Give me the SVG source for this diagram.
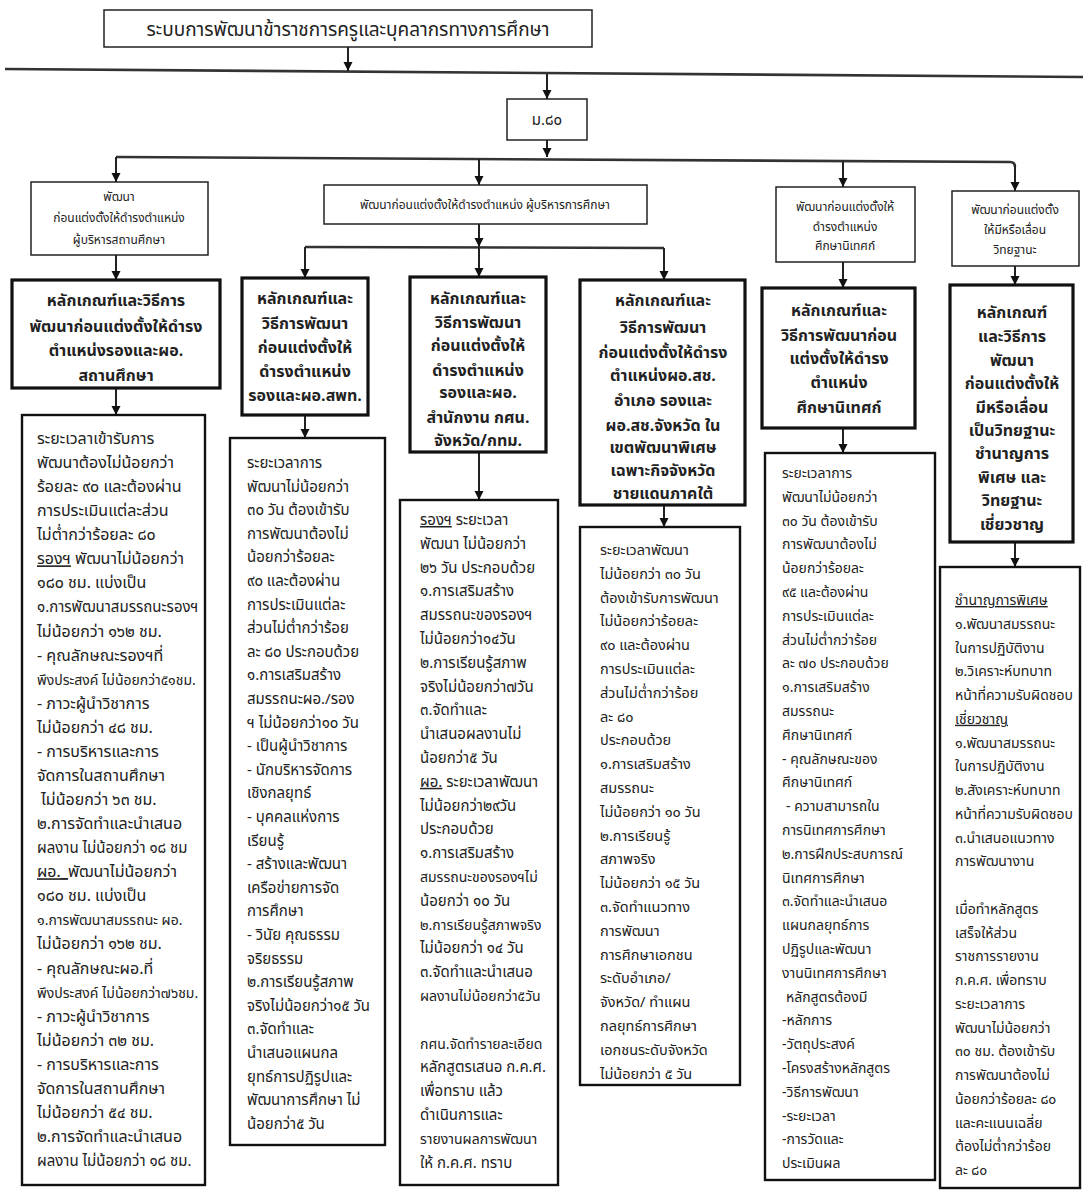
<svg xmlns="http://www.w3.org/2000/svg" width="1083" height="1191" viewBox="0 0 1083 1191">
<style>
.bg{fill:#ffffff}
.thin{fill:#fff;stroke:#222;stroke-width:1.5}
.bold{fill:#fff;stroke:#111;stroke-width:3.2}
.mid{fill:#fff;stroke:#111;stroke-width:2.4}
.ln{fill:none;stroke:#222;stroke-width:2}
.hl{fill:none;stroke:#333;stroke-width:2.6}
text{font-family:"Noto Sans Thai","Loma","Garuda","Noto Sans",sans-serif;fill:#222}
.ti{font-size:19px}
.sm{font-size:12px}
.hd{font-size:16px;font-weight:bold;text-anchor:middle}
.f16{font-size:16px}
.f15{font-size:15px}
.f145{font-size:14.5px}
.f14{font-size:14px}
.u{text-decoration:underline}
.c{text-anchor:middle}
</style>
<defs>
<marker id="ah" viewBox="0 0 10 10" refX="10" refY="5" markerWidth="9" markerHeight="11" markerUnits="userSpaceOnUse" orient="auto">
<path d="M0,0 L10,5 L0,10 z" fill="#111"/>
</marker>
</defs>
<rect class="bg" x="0" y="0" width="1083" height="1191"/>

<g id="connectors">
<line class="hl" x1="5" y1="69" x2="1083" y2="77"/>
<line class="ln" x1="348" y1="47" x2="348" y2="71" marker-end="url(#ah)"/>
<line class="ln" x1="547" y1="74" x2="547" y2="99" marker-end="url(#ah)"/>
<line class="ln" x1="547" y1="140" x2="547" y2="157" marker-end="url(#ah)"/>
<path class="hl" d="M116,157 L1010,162 Q1015,162 1015,167"/>
<line class="ln" x1="1015" y1="165" x2="1015" y2="191" marker-end="url(#ah)"/>
<line class="ln" x1="116" y1="157" x2="116" y2="182" marker-end="url(#ah)"/>
<line class="ln" x1="479" y1="159" x2="479" y2="185" marker-end="url(#ah)"/>
<line class="ln" x1="843" y1="161" x2="843" y2="187" marker-end="url(#ah)"/>
<line class="ln" x1="116" y1="255" x2="116" y2="280" marker-end="url(#ah)"/>
<line class="ln" x1="479" y1="224" x2="479" y2="247" marker-end="url(#ah)"/>
<line class="hl" x1="305" y1="247" x2="664" y2="248"/>
<line class="ln" x1="305" y1="247" x2="305" y2="278" marker-end="url(#ah)"/>
<line class="ln" x1="479" y1="247" x2="479" y2="277" marker-end="url(#ah)"/>
<line class="ln" x1="664" y1="248" x2="664" y2="280" marker-end="url(#ah)"/>
<line class="ln" x1="843" y1="262" x2="843" y2="288" marker-end="url(#ah)"/>
<line class="ln" x1="1015" y1="266" x2="1015" y2="285" marker-end="url(#ah)"/>
<line class="ln" x1="116" y1="388" x2="116" y2="415" marker-end="url(#ah)"/>
<line class="ln" x1="305" y1="415" x2="305" y2="438" marker-end="url(#ah)"/>
<line class="ln" x1="479" y1="452" x2="479" y2="500" marker-end="url(#ah)"/>
<line class="ln" x1="664" y1="505" x2="664" y2="527" marker-end="url(#ah)"/>
<line class="ln" x1="843" y1="428" x2="843" y2="453" marker-end="url(#ah)"/>
<line class="ln" x1="1015" y1="542" x2="1015" y2="567" marker-end="url(#ah)"/>
</g>

<g id="title">
<rect class="thin" x="104" y="10" width="488" height="37"/>
<text class="ti c" x="348" y="36">ระบบการพัฒนาข้าราชการครูและบุคลากรทางการศึกษา</text>
</g>

<g id="m80">
<rect class="thin" x="507" y="99" width="80" height="41"/>
<text class="c" style="font-size:15px" x="547" y="125">ม.๘๐</text>
</g>

<g id="b1">
<rect class="thin" x="31" y="182" width="177" height="73"/>
<text class="sm c" x="119" y="201">พัฒนา</text>
<text class="sm c" x="119" y="222">ก่อนแต่งตั้งให้ดำรงตำแหน่ง</text>
<text class="sm c" x="119" y="244">ผู้บริหารสถานศึกษา</text>
</g>

<g id="b2">
<rect class="thin" x="324" y="185" width="323" height="39"/>
<text class="sm c" x="485" y="209">พัฒนาก่อนแต่งตั้งให้ดำรงตำแหน่ง ผู้บริหารการศึกษา</text>
</g>

<g id="b5">
<rect class="thin" x="776" y="187" width="139" height="75"/>
<text class="sm c" x="845" y="211">พัฒนาก่อนแต่งตั้งให้</text>
<text class="sm c" x="845" y="231">ดำรงตำแหน่ง</text>
<text class="sm c" x="845" y="250">ศึกษานิเทศก์</text>
</g>

<g id="b6">
<rect class="thin" x="952" y="191" width="127" height="75"/>
<text class="sm c" x="1015" y="214">พัฒนาก่อนแต่งตั้ง</text>
<text class="sm c" x="1015" y="234">ให้มีหรือเลื่อน</text>
<text class="sm c" x="1015" y="254">วิทยฐานะ</text>
</g>

<g id="c1">
<rect class="bold" x="12" y="280" width="208" height="108"/>
<text class="hd" x="116" y="306">หลักเกณฑ์และวิธีการ</text>
<text class="hd" x="116" y="332">พัฒนาก่อนแต่งตั้งให้ดำรง</text>
<text class="hd" x="116" y="356">ตำแหน่งรองและผอ.</text>
<text class="hd" x="116" y="381">สถานศึกษา</text>
</g>

<g id="c2">
<rect class="bold" x="242" y="278" width="126" height="137"/>
<text class="hd" x="305" y="304">หลักเกณฑ์และ</text>
<text class="hd" x="305" y="329">วิธีการพัฒนา</text>
<text class="hd" x="305" y="353">ก่อนแต่งตั้งให้</text>
<text class="hd" x="305" y="377">ดำรงตำแหน่ง</text>
<text class="hd" x="305" y="401">รองและผอ.สพท.</text>
</g>

<g id="c3">
<rect class="bold" x="410" y="277" width="136" height="175"/>
<text class="hd" x="478" y="304">หลักเกณฑ์และ</text>
<text class="hd" x="478" y="328">วิธีการพัฒนา</text>
<text class="hd" x="478" y="351">ก่อนแต่งตั้งให้</text>
<text class="hd" x="478" y="376">ดำรงตำแหน่ง</text>
<text class="hd" x="478" y="398">รองและผอ.</text>
<text class="hd" x="478" y="423">สำนักงาน กศน.</text>
<text class="hd" x="478" y="446">จังหวัด/กทม.</text>
</g>

<g id="c4">
<rect class="bold" x="580" y="280" width="165" height="225"/>
<text class="hd" x="663" y="306">หลักเกณฑ์และ</text>
<text class="hd" x="663" y="333">วิธีการพัฒนา</text>
<text class="hd" x="663" y="358">ก่อนแต่งตั้งให้ดำรง</text>
<text class="hd" x="663" y="381">ตำแหน่งผอ.สช.</text>
<text class="hd" x="663" y="406">อำเภอ รองและ</text>
<text class="hd" x="663" y="431">ผอ.สช.จังหวัด ใน</text>
<text class="hd" x="663" y="453">เขตพัฒนาพิเศษ</text>
<text class="hd" x="663" y="476">เฉพาะกิจจังหวัด</text>
<text class="hd" x="663" y="499">ชายแดนภาคใต้</text>
</g>

<g id="c5">
<rect class="bold" x="762" y="288" width="153" height="140"/>
<text class="hd" x="839" y="316">หลักเกณฑ์และ</text>
<text class="hd" x="839" y="341">วิธีการพัฒนาก่อน</text>
<text class="hd" x="839" y="364">แต่งตั้งให้ดำรง</text>
<text class="hd" x="839" y="388">ตำแหน่ง</text>
<text class="hd" x="839" y="413">ศึกษานิเทศก์</text>
</g>

<g id="c6">
<rect class="bold" x="950" y="285" width="123" height="257"/>
<text class="hd" x="1012" y="318">หลักเกณฑ์</text>
<text class="hd" x="1012" y="342">และวิธีการ</text>
<text class="hd" x="1012" y="366">พัฒนา</text>
<text class="hd" x="1012" y="389">ก่อนแต่งตั้งให้</text>
<text class="hd" x="1012" y="413">มีหรือเลื่อน</text>
<text class="hd" x="1012" y="436">เป็นวิทยฐานะ</text>
<text class="hd" x="1012" y="459">ชำนาญการ</text>
<text class="hd" x="1012" y="483">พิเศษ และ</text>
<text class="hd" x="1012" y="506">วิทยฐานะ</text>
<text class="hd" x="1012" y="530">เชี่ยวชาญ</text>
</g>

<g id="d1">
<rect class="mid" x="22" y="415" width="183" height="770"/>
<text class="f16" y="444">
<tspan x="37">ระยะเวลาเข้ารับการ</tspan>
<tspan x="37" dy="24.07">พัฒนาต้องไม่น้อยกว่า</tspan>
<tspan x="37" dy="24.07">ร้อยละ ๙๐ และต้องผ่าน</tspan>
<tspan x="37" dy="24.07">การประเมินแต่ละส่วน</tspan>
<tspan x="37" dy="24.07">ไม่ต่ำกว่าร้อยละ ๘๐</tspan>
<tspan x="37" dy="24.07" class="u">รองฯ</tspan><tspan> พัฒนาไม่น้อยกว่า</tspan>
<tspan x="37" dy="24.07">๑๘๐ ชม. แบ่งเป็น</tspan>
<tspan x="37" dy="24.07" class="f15">๑.การพัฒนาสมรรถนะรองฯ</tspan>
<tspan x="37" dy="24.07">ไม่น้อยกว่า ๑๖๒ ชม.</tspan>
<tspan x="37" dy="24.07">- คุณลักษณะรองฯที่</tspan>
<tspan x="37" dy="24.07" class="f14">พึงประสงค์ ไม่น้อยกว่า๕๑ชม.</tspan>
<tspan x="37" dy="24.07">- ภาวะผู้นำวิชาการ</tspan>
<tspan x="37" dy="24.07">ไม่น้อยกว่า ๔๘ ชม.</tspan>
<tspan x="37" dy="24.07">- การบริหารและการ</tspan>
<tspan x="37" dy="24.07">จัดการในสถานศึกษา</tspan>
<tspan x="41" dy="24.07">ไม่น้อยกว่า ๖๓ ชม.</tspan>
<tspan x="37" dy="24.07">๒.การจัดทำและนำเสนอ</tspan>
<tspan x="37" dy="24.07" class="f15">ผลงาน ไม่น้อยกว่า ๑๘ ชม</tspan>
<tspan x="37" dy="24.07" class="u">ผอ._</tspan><tspan>พัฒนาไม่น้อยกว่า</tspan>
<tspan x="37" dy="24.07">๑๘๐ ชม. แบ่งเป็น</tspan>
<tspan x="37" dy="24.07" class="f14">๑.การพัฒนาสมรรถนะ ผอ.</tspan>
<tspan x="37" dy="24.07">ไม่น้อยกว่า ๑๖๒ ชม.</tspan>
<tspan x="37" dy="24.07">- คุณลักษณะผอ.ที่</tspan>
<tspan x="37" dy="24.07" class="f14">พึงประสงค์ ไม่น้อยกว่า๗๖ชม.</tspan>
<tspan x="37" dy="24.07">- ภาวะผู้นำวิชาการ</tspan>
<tspan x="37" dy="24.07">ไม่น้อยกว่า ๓๒ ชม.</tspan>
<tspan x="37" dy="24.07">- การบริหารและการ</tspan>
<tspan x="37" dy="24.07">จัดการในสถานศึกษา</tspan>
<tspan x="37" dy="24.07">ไม่น้อยกว่า ๕๔ ชม.</tspan>
<tspan x="37" dy="24.07">๒.การจัดทำและนำเสนอ</tspan>
<tspan x="37" dy="24.07" class="f15">ผลงาน ไม่น้อยกว่า ๑๘ ชม.</tspan>
</text>
</g>

<g id="d2">
<rect class="mid" x="230" y="438" width="155" height="707"/>
<text class="f15" y="468">
<tspan x="247">ระยะเวลาการ</tspan>
<tspan x="247" dy="23.6">พัฒนาไม่น้อยกว่า</tspan>
<tspan x="247" dy="23.6">๓๐ วัน ต้องเข้ารับ</tspan>
<tspan x="247" dy="23.6">การพัฒนาต้องไม่</tspan>
<tspan x="247" dy="23.6">น้อยกว่าร้อยละ</tspan>
<tspan x="247" dy="23.6">๙๐  และต้องผ่าน</tspan>
<tspan x="247" dy="23.6">การประเมินแต่ละ</tspan>
<tspan x="247" dy="23.6">ส่วนไม่ต่ำกว่าร้อย</tspan>
<tspan x="247" dy="23.6">ละ ๘๐ ประกอบด้วย</tspan>
<tspan x="247" dy="23.6">๑.การเสริมสร้าง</tspan>
<tspan x="247" dy="23.6">สมรรถนะผอ./รอง</tspan>
<tspan x="247" dy="23.6">ฯ ไม่น้อยกว่า๑๐ วัน</tspan>
<tspan x="247" dy="23.6">- เป็นผู้นำวิชาการ</tspan>
<tspan x="247" dy="23.6">- นักบริหารจัดการ</tspan>
<tspan x="247" dy="23.6">เชิงกลยุทธ์</tspan>
<tspan x="247" dy="23.6">- บุคคลแห่งการ</tspan>
<tspan x="247" dy="23.6">เรียนรู้</tspan>
<tspan x="247" dy="23.6">- สร้างและพัฒนา</tspan>
<tspan x="247" dy="23.6">เครือข่ายการจัด</tspan>
<tspan x="247" dy="23.6">การศึกษา</tspan>
<tspan x="247" dy="23.6">- วินัย คุณธรรม</tspan>
<tspan x="247" dy="23.6">จริยธรรม</tspan>
<tspan x="247" dy="23.6">๒.การเรียนรู้สภาพ</tspan>
<tspan x="247" dy="23.6">จริงไม่น้อยกว่า๑๕ วัน</tspan>
<tspan x="247" dy="23.6">๓.จัดทำและ</tspan>
<tspan x="247" dy="23.6">นำเสนอแผนกล</tspan>
<tspan x="247" dy="23.6">ยุทธ์การปฏิรูปและ</tspan>
<tspan x="247" dy="23.6">พัฒนาการศึกษา ไม่</tspan>
<tspan x="247" dy="23.6">น้อยกว่า๕ วัน</tspan>
</text>
</g>

<g id="d3">
<rect class="mid" x="400" y="500" width="158" height="685"/>
<text class="f15" y="525">
<tspan x="420" class="u">รองฯ</tspan><tspan> ระยะเวลา</tspan>
<tspan x="420" dy="23.8">พัฒนา ไม่น้อยกว่า</tspan>
<tspan x="420" dy="23.8">๒๖ วัน ประกอบด้วย</tspan>
<tspan x="420" dy="23.8">๑.การเสริมสร้าง</tspan>
<tspan x="420" dy="23.8">สมรรถนะของรองฯ</tspan>
<tspan x="420" dy="23.8">ไม่น้อยกว่า๑๔วัน</tspan>
<tspan x="420" dy="23.8">๒.การเรียนรู้สภาพ</tspan>
<tspan x="420" dy="23.8">จริงไม่น้อยกว่า๗วัน</tspan>
<tspan x="420" dy="23.8">๓.จัดทำและ</tspan>
<tspan x="420" dy="23.8">นำเสนอผลงานไม่</tspan>
<tspan x="420" dy="23.8">น้อยกว่า๕ วัน</tspan>
<tspan x="420" dy="23.8" class="u">ผอ.</tspan><tspan> ระยะเวลาพัฒนา</tspan>
<tspan x="420" dy="23.8">ไม่น้อยกว่า๒๙วัน</tspan>
<tspan x="420" dy="23.8">ประกอบด้วย</tspan>
<tspan x="420" dy="23.8">๑.การเสริมสร้าง</tspan>
<tspan x="420" dy="23.8" class="f14">สมรรถนะของรองฯไม่</tspan>
<tspan x="420" dy="23.8">น้อยกว่า ๑๐ วัน</tspan>
<tspan x="420" dy="23.8" class="f14">๒.การเรียนรู้สภาพจริง</tspan>
<tspan x="420" dy="23.8">ไม่น้อยกว่า ๑๔ วัน</tspan>
<tspan x="420" dy="23.8">๓.จัดทำและนำเสนอ</tspan>
<tspan x="420" dy="23.8" class="f14">ผลงานไม่น้อยกว่า๕วัน</tspan>
<tspan x="420" dy="47.6" class="f14">กศน.จัดทำรายละเอียด</tspan>
<tspan x="420" dy="23.8">หลักสูตรเสนอ ก.ค.ศ.</tspan>
<tspan x="420" dy="23.8">เพื่อทราบ แล้ว</tspan>
<tspan x="420" dy="23.8">ดำเนินการและ</tspan>
<tspan x="420" dy="23.8" class="f14">รายงานผลการพัฒนา</tspan>
<tspan x="420" dy="23.8">ให้ ก.ค.ศ. ทราบ</tspan>
</text>
</g>

<g id="d4">
<rect class="mid" x="580" y="527" width="160" height="558"/>
<text class="f145" y="555">
<tspan x="600">ระยะเวลาพัฒนา</tspan>
<tspan x="600" dy="23.8">ไม่น้อยกว่า ๓๐ วัน</tspan>
<tspan x="600" dy="23.8">ต้องเข้ารับการพัฒนา</tspan>
<tspan x="600" dy="23.8">ไม่น้อยกว่าร้อยละ</tspan>
<tspan x="600" dy="23.8">๙๐  และต้องผ่าน</tspan>
<tspan x="600" dy="23.8">การประเมินแต่ละ</tspan>
<tspan x="600" dy="23.8">ส่วนไม่ต่ำกว่าร้อย</tspan>
<tspan x="600" dy="23.8">ละ ๘๐</tspan>
<tspan x="600" dy="23.8">ประกอบด้วย</tspan>
<tspan x="600" dy="23.8">๑.การเสริมสร้าง</tspan>
<tspan x="600" dy="23.8">สมรรถนะ</tspan>
<tspan x="600" dy="23.8">ไม่น้อยกว่า ๑๐ วัน</tspan>
<tspan x="600" dy="23.8">๒.การเรียนรู้</tspan>
<tspan x="600" dy="23.8">สภาพจริง</tspan>
<tspan x="600" dy="23.8">ไม่น้อยกว่า ๑๕ วัน</tspan>
<tspan x="600" dy="23.8">๓.จัดทำแนวทาง</tspan>
<tspan x="600" dy="23.8">การพัฒนา</tspan>
<tspan x="600" dy="23.8">การศึกษาเอกชน</tspan>
<tspan x="600" dy="23.8">ระดับอำเภอ/</tspan>
<tspan x="600" dy="23.8">จังหวัด/ ทำแผน</tspan>
<tspan x="600" dy="23.8">กลยุทธ์การศึกษา</tspan>
<tspan x="600" dy="23.8">เอกชนระดับจังหวัด</tspan>
<tspan x="600" dy="23.8">ไม่น้อยกว่า ๕ วัน</tspan>
</text>
</g>

<g id="d5">
<rect class="mid" x="765" y="453" width="170" height="727"/>
<text class="f14" y="478">
<tspan x="782">ระยะเวลาการ</tspan>
<tspan x="782" dy="23.8">พัฒนาไม่น้อยกว่า</tspan>
<tspan x="782" dy="23.8">๓๐ วัน ต้องเข้ารับ</tspan>
<tspan x="782" dy="23.8">การพัฒนาต้องไม่</tspan>
<tspan x="782" dy="23.8">น้อยกว่าร้อยละ</tspan>
<tspan x="782" dy="23.8">๙๕ และต้องผ่าน</tspan>
<tspan x="782" dy="23.8">การประเมินแต่ละ</tspan>
<tspan x="782" dy="23.8">ส่วนไม่ต่ำกว่าร้อย</tspan>
<tspan x="782" dy="23.8">ละ ๗๐ ประกอบด้วย</tspan>
<tspan x="782" dy="23.8">๑.การเสริมสร้าง</tspan>
<tspan x="782" dy="23.8">สมรรถนะ</tspan>
<tspan x="782" dy="23.8">ศึกษานิเทศก์</tspan>
<tspan x="782" dy="23.8">- คุณลักษณะของ</tspan>
<tspan x="782" dy="23.8">ศึกษานิเทศก์</tspan>
<tspan x="786" dy="23.8">- ความสามารถใน</tspan>
<tspan x="782" dy="23.8">การนิเทศการศึกษา</tspan>
<tspan x="782" dy="23.8">๒.การฝึกประสบการณ์</tspan>
<tspan x="782" dy="23.8">นิเทศการศึกษา</tspan>
<tspan x="782" dy="23.8">๓.จัดทำและนำเสนอ</tspan>
<tspan x="782" dy="23.8">แผนกลยุทธ์การ</tspan>
<tspan x="782" dy="23.8">ปฏิรูปและพัฒนา</tspan>
<tspan x="782" dy="23.8">งานนิเทศการศึกษา</tspan>
<tspan x="786" dy="23.8">หลักสูตรต้องมี</tspan>
<tspan x="782" dy="23.8">-หลักการ</tspan>
<tspan x="782" dy="23.8">-วัตถุประสงค์</tspan>
<tspan x="782" dy="23.8">-โครงสร้างหลักสูตร</tspan>
<tspan x="782" dy="23.8">-วิธีการพัฒนา</tspan>
<tspan x="782" dy="23.8">-ระยะเวลา</tspan>
<tspan x="782" dy="23.8">-การวัดและ</tspan>
<tspan x="782" dy="23.8">ประเมินผล</tspan>
</text>
</g>

<g id="d6">
<rect class="mid" x="940" y="567" width="140" height="621"/>
<text class="f14" y="605">
<tspan x="955" class="u">ชำนาญการพิเศษ</tspan>
<tspan x="955" dy="23.75">๑.พัฒนาสมรรถนะ</tspan>
<tspan x="955" dy="23.75">ในการปฏิบัติงาน</tspan>
<tspan x="955" dy="23.75">๒.วิเคราะห์บทบาท</tspan>
<tspan x="955" dy="23.75">หน้าที่ความรับผิดชอบ</tspan>
<tspan x="955" dy="23.75" class="u">เชี่ยวชาญ</tspan>
<tspan x="955" dy="23.75">๑.พัฒนาสมรรถนะ</tspan>
<tspan x="955" dy="23.75">ในการปฏิบัติงาน</tspan>
<tspan x="955" dy="23.75">๒.สังเคราะห์บทบาท</tspan>
<tspan x="955" dy="23.75">หน้าที่ความรับผิดชอบ</tspan>
<tspan x="955" dy="23.75">๓.นำเสนอแนวทาง</tspan>
<tspan x="955" dy="23.75">การพัฒนางาน</tspan>
<tspan x="955" dy="47.5">เมื่อทำหลักสูตร</tspan>
<tspan x="955" dy="23.75">เสร็จให้ส่วน</tspan>
<tspan x="955" dy="23.75">ราชการรายงาน</tspan>
<tspan x="955" dy="23.75">ก.ค.ศ. เพื่อทราบ</tspan>
<tspan x="955" dy="23.75">ระยะเวลาการ</tspan>
<tspan x="955" dy="23.75">พัฒนาไม่น้อยกว่า</tspan>
<tspan x="955" dy="23.75">๓๐ ชม. ต้องเข้ารับ</tspan>
<tspan x="955" dy="23.75">การพัฒนาต้องไม่</tspan>
<tspan x="955" dy="23.75">น้อยกว่าร้อยละ ๘๐</tspan>
<tspan x="955" dy="23.75">และคะแนนเฉลี่ย</tspan>
<tspan x="955" dy="23.75">ต้องไม่ต่ำกว่าร้อย</tspan>
<tspan x="955" dy="23.75">ละ ๘๐</tspan>
</text>
</g>
</svg>
